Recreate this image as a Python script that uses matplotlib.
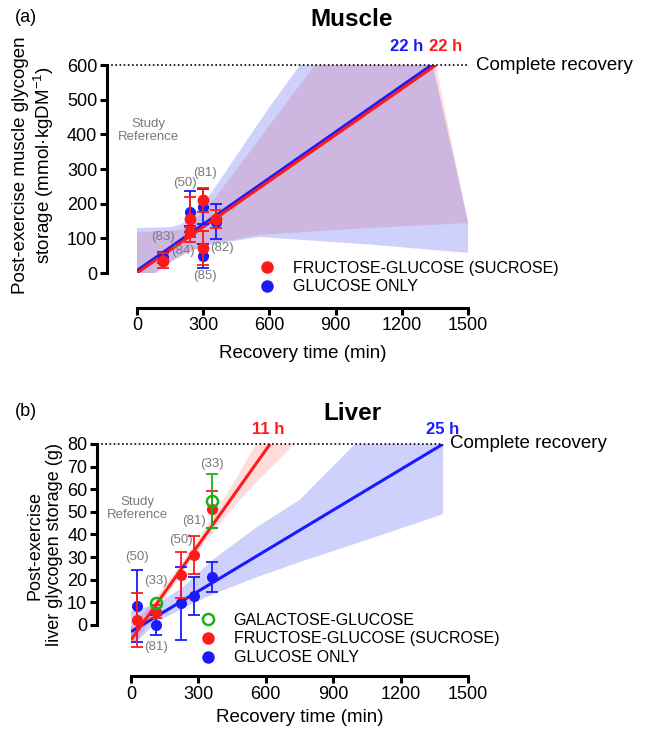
import matplotlib
matplotlib.use('Agg')
import matplotlib.pyplot as plt
from matplotlib.lines import Line2D
import numpy as np

plt.rcParams['font.family'] = ['Liberation Sans', 'DejaVu Sans']
plt.rcParams['mathtext.fontset'] = 'custom'
plt.rcParams['mathtext.rm'] = 'Liberation Sans'
plt.rcParams['mathtext.it'] = 'Liberation Sans:italic'

# ---------------- data: muscle ----------------
mus_glc_x = [120, 240, 240, 300, 300, 360]
mus_glc_y = [45, 177, 120, 191, 50, 148]
mus_glc_err = [15, 60, 15, 50, 35, 51]
mus_suc_x = [120, 240, 240, 300, 300, 360]
mus_suc_y = [35, 155, 119, 210, 72, 156]
mus_suc_err = [22, 65, 15, 35, 50, 26]

mus_ref_labels = ['(83)', '(50)', '(81)', '(84)', '(82)', '(85)']
mus_ref_x = [119, 217, 308, 210, 384, 308]
mus_ref_y = [103, 260, 289, 63, 71, -9]

mus_glc_fit_x = [0, 1335]
mus_glc_fit_y = [7, 600]
mus_suc_fit_x = [0, 1355]
mus_suc_fit_y = [0, 600]

mus_glc_band_x = [0, 150, 200, 250, 316, 400, 500, 600, 739, 1340, 1500, 1500,
                  1056, 557, 316, 225, 150, 75, 0]
mus_glc_band_y = [130, 132, 140, 162, 212, 290, 385, 478, 600, 600, 150, 58,
                  82, 104, 80, 58, 30, -5, -60]
mus_suc_band_x = [0, 150, 220, 280, 353, 500, 650, 806, 1355, 1500,
                  1056, 557, 316, 225, 150, 75, 0]
mus_suc_band_y = [118, 120, 128, 165, 216, 340, 468, 600, 600, 144,
                  130, 110, 82, 60, 32, -5, -60]

# ---------------- data: liver ----------------
liv_glc_x = [28, 112, 223, 279, 362]
liv_glc_y = [8.5, 0.0, 9.6, 13.0, 21.1]
liv_glc_err = [16, 4.4, 16.2, 8.4, 6.5]
liv_suc_x = [28, 112, 223, 279, 362]
liv_suc_y = [2.2, 5.9, 22.1, 30.9, 51.1]
liv_suc_err = [12, 3, 10.3, 8.4, 8.2]
liv_gal_x = [112, 362]
liv_gal_y = [9.9, 54.8]
liv_gal_err = [0, 11.9]

liv_ref_labels = ['(50)', '(33)', '(81)', '(50)', '(81)', '(33)']
liv_ref_x = [25, 112, 112, 223, 279, 362]
liv_ref_y = [30.0, 19.6, -9.6, 37.6, 46.0, 71.0]

liv_suc_fit_x = [0, 619]
liv_suc_fit_y = [-6.6, 80]
liv_glc_fit_x = [0, 1389]
liv_glc_fit_y = [-3.0, 80]

liv_suc_band_x = [0, 93, 186, 279, 372, 464, 557, 725, 650, 557, 464, 372, 279, 186, 93, 0]
liv_suc_band_y = [-1, 9.5, 22, 35, 49, 64, 80, 80, 72, 63, 53, 42, 30, 17, 3.5, -12]
liv_glc_band_x = [0, 111, 223, 366, 557, 752, 997, 1389, 1389, 1108, 752, 557, 366, 223, 111, 0]
liv_glc_band_y = [6, 9, 16, 29, 43, 55.4, 80, 80, 49, 39.5, 27.8, 21, 13.6, 7, 1, -10]

xticks = [0, 300, 600, 900, 1200, 1500]
mus_yticks = [0, 100, 200, 300, 400, 500, 600]
liv_yticks = [0, 10, 20, 30, 40, 50, 60, 70, 80]

RED = '#ff1a1a'
BLUE = '#1a1aff'
GREEN = '#19b219'
GRAY = '#7a7a7a'

W, H = 651, 734
fig = plt.figure(figsize=(W / 100, H / 100), dpi=100)


def fx(px):
    return px / W


def fy(py):
    return 1 - py / H


def style_axes(ax, yb, xout, yout, yticks):
    for s in ['top', 'right']:
        ax.spines[s].set_visible(False)
    ax.spines['left'].set_position(('outward', yout))
    ax.spines['bottom'].set_position(('outward', xout))
    ax.spines['left'].set_linewidth(2.2)
    ax.spines['bottom'].set_linewidth(2.2)
    ax.spines['bottom'].set_bounds(0, 1500)
    ax.spines['left'].set_bounds(yb[0], yb[1])
    ax.set_xticks(xticks)
    ax.set_yticks(yticks)
    ax.tick_params(width=2.2, length=5, labelsize=13, pad=2, colors='black')
    ax.patch.set_alpha(0)


# ================= Muscle =================
ax1 = fig.add_axes([fx(137), fy(273), fx(468) - fx(137), fy(65) - fy(273)])
ax1.set_xlim(0, 1500)
ax1.set_ylim(0, 600)
ax1.fill(mus_suc_band_x, mus_suc_band_y, color='#ff0000', alpha=0.13, lw=0)
ax1.fill(mus_glc_band_x, mus_glc_band_y, color='#1f2ff0', alpha=0.22, lw=0)
ax1.plot(mus_glc_fit_x, mus_glc_fit_y, color=BLUE, lw=2.2, solid_capstyle='butt')
ax1.plot(mus_suc_fit_x, mus_suc_fit_y, color=RED, lw=2.2, solid_capstyle='butt')
ax1.errorbar(mus_glc_x, mus_glc_y, yerr=mus_glc_err, fmt='o', color=BLUE, ms=7,
             capsize=4, elinewidth=1.3, capthick=1.3, clip_on=False, zorder=4)
ax1.errorbar(mus_suc_x, mus_suc_y, yerr=mus_suc_err, fmt='o', color=RED, ms=7.5,
             capsize=4, elinewidth=1.3, capthick=1.3, clip_on=False, zorder=5)
for t, x, y in zip(mus_ref_labels, mus_ref_x, mus_ref_y):
    ax1.text(x, y, t, color=GRAY, fontsize=9.5, ha='center', va='center')
ax1.text(51, 410, 'Study\nReference', color=GRAY, fontsize=9.5, ha='center',
         va='center', linespacing=1.1)
ax1.plot([-136, 1505], [600, 600], ls=(0, (1, 1.5)), color='black', lw=1.2, clip_on=False)
ax1.text(1536, 600, 'Complete recovery', fontsize=13.5, ha='left', va='center')
ax1.text(1220, 652, '22 h', color=BLUE, fontsize=12, fontweight='bold', ha='center', va='center')
ax1.text(1398, 652, '22 h', color=RED, fontsize=12, fontweight='bold', ha='center', va='center')
style_axes(ax1, (0, 600), 25, 21.6, mus_yticks)

h1 = [Line2D([], [], marker='o', ls='', color=RED, ms=8),
      Line2D([], [], marker='o', ls='', color=BLUE, ms=8)]
fig.legend(h1, ['FRUCTOSE-GLUCOSE (SUCROSE)', 'GLUCOSE ONLY'], loc='center left',
           bbox_to_anchor=(fx(259), fy(277.5)), frameon=False, fontsize=11.5,
           handlelength=1.0, handletextpad=1.1, labelspacing=0.25, borderpad=0,
           borderaxespad=0)

fig.text(fx(15), fy(18), '(a)', fontsize=13, ha='left', va='center')
fig.text(fx(352), fy(20), 'Muscle', fontsize=17.5, fontweight='bold', ha='center', va='center')
fig.text(fx(303), fy(353), 'Recovery time (min)', fontsize=13.5, ha='center', va='center')
fig.text(fx(34), fy(165), 'Post-exercise muscle glycogen\nstorage (mmol·kgDM$^{-1}$)',
         fontsize=13.5, rotation=90, ha='center', va='center', multialignment='center',
         linespacing=1.2)

# ================= Liver =================
ax2 = fig.add_axes([fx(131), fy(643), fx(468) - fx(131), fy(444) - fy(643)])
ax2.set_xlim(0, 1500)
ax2.set_ylim(-8, 80)
ax2.fill(liv_suc_band_x, liv_suc_band_y, color='#ff0000', alpha=0.14, lw=0)
ax2.fill(liv_glc_band_x, liv_glc_band_y, color='#1f2ff0', alpha=0.22, lw=0)
ax2.plot(liv_glc_fit_x, liv_glc_fit_y, color=BLUE, lw=2.2, solid_capstyle='butt')
ax2.plot(liv_suc_fit_x, liv_suc_fit_y, color=RED, lw=2.2, solid_capstyle='butt')
ax2.errorbar(liv_glc_x, liv_glc_y, yerr=liv_glc_err, fmt='o', color=BLUE, ms=7,
             capsize=4, elinewidth=1.3, capthick=1.3, clip_on=False, zorder=4)
ax2.errorbar(liv_suc_x, liv_suc_y, yerr=liv_suc_err, fmt='o', color=RED, ms=7,
             capsize=4, elinewidth=1.3, capthick=1.3, clip_on=False, zorder=5)
gx = np.array(liv_gal_x)
gy = np.array(liv_gal_y)
ge = np.array(liv_gal_err)
m = ge > 0
ax2.errorbar(gx[m], gy[m], yerr=ge[m], fmt='none', ecolor=GREEN,
             capsize=4, elinewidth=1.3, capthick=1.3, zorder=6)
ax2.plot(gx, gy, 'o', mfc='none', mec=GREEN, mew=1.8, ms=8, zorder=7)
for t, x, y in zip(liv_ref_labels, liv_ref_x, liv_ref_y):
    ax2.text(x, y, t, color=GRAY, fontsize=9.5, ha='center', va='center')
ax2.text(27, 51.3, 'Study\nReference', color=GRAY, fontsize=9.5, ha='center',
         va='center', linespacing=1.1)
ax2.plot([-151, 1389], [80, 80], ls=(0, (1, 1.5)), color='black', lw=1.2, clip_on=False)
ax2.text(1420, 80, 'Complete recovery', fontsize=13.5, ha='left', va='center')
ax2.text(610, 86.6, '11 h', color=RED, fontsize=12, fontweight='bold', ha='center', va='center')
ax2.text(1388, 86.6, '25 h', color=BLUE, fontsize=12, fontweight='bold', ha='center', va='center')
style_axes(ax2, (0, 80), 23.8, 24.5, liv_yticks)

h2 = [Line2D([], [], marker='o', ls='', mfc='none', mec=GREEN, mew=1.8, ms=8),
      Line2D([], [], marker='o', ls='', color=RED, ms=8),
      Line2D([], [], marker='o', ls='', color=BLUE, ms=8)]
fig.legend(h2, ['GALACTOSE-GLUCOSE', 'FRUCTOSE-GLUCOSE (SUCROSE)', 'GLUCOSE ONLY'],
           loc='center left', bbox_to_anchor=(fx(200), fy(639)), frameon=False,
           fontsize=11.5, handlelength=1.0, handletextpad=1.1, labelspacing=0.25,
           borderpad=0, borderaxespad=0)

fig.text(fx(15), fy(412), '(b)', fontsize=13, ha='left', va='center')
fig.text(fx(352), fy(413), 'Liver', fontsize=17.5, fontweight='bold', ha='center', va='center')
fig.text(fx(300), fy(717), 'Recovery time (min)', fontsize=13.5, ha='center', va='center')
fig.text(fx(45), fy(545), 'Post-exercise\nliver glycogen storage (g)',
         fontsize=13, rotation=90, ha='center', va='center', multialignment='center',
         linespacing=1.2)

fig.savefig('out.png', dpi=100)
